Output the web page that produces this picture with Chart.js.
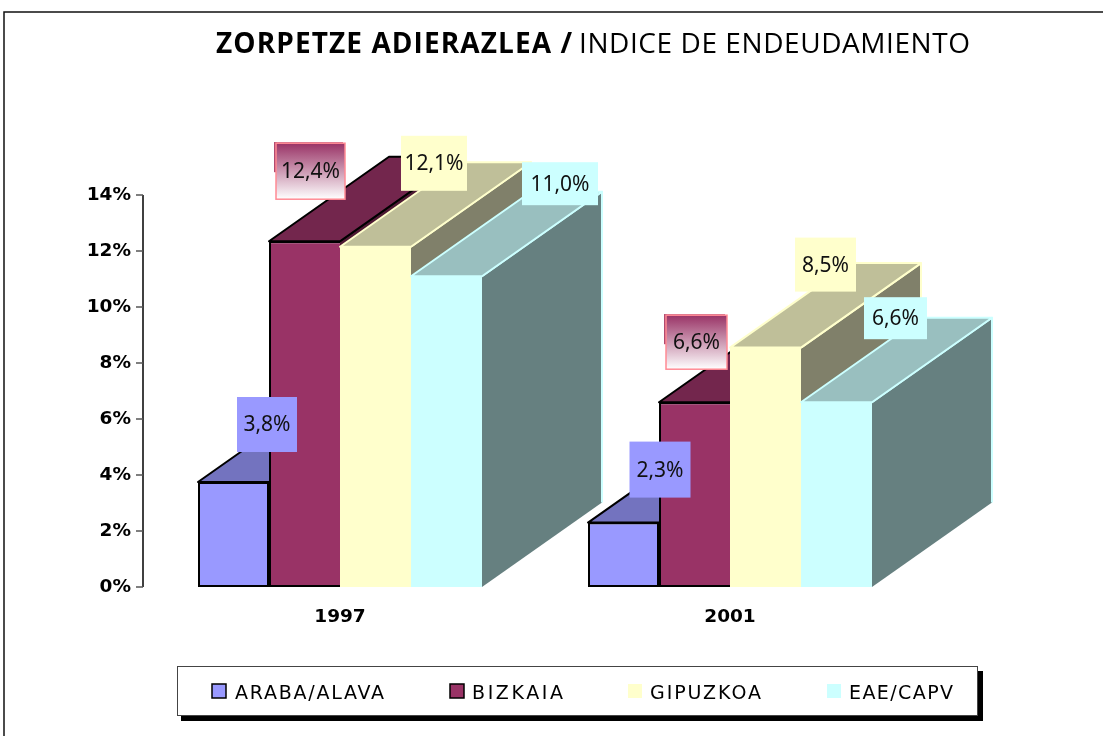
<!DOCTYPE html>
<html>
<head>
<meta charset="utf-8">
<style>html,body{margin:0;padding:0;background:#fff;overflow:hidden}canvas{display:block}</style>
<script src="https://cdn.jsdelivr.net/npm/chart.js@4/dist/chart.umd.min.js"></script>
</head>
<body>
<canvas id="c" width="1103" height="736"></canvas>
<script>
const categories = ['1997', '2001'];
const seriesNames = ['ARABA/ALAVA', 'BIZKAIA', 'GIPUZKOA', 'EAE/CAPV'];
const araba = [3.75, 2.3];
const bizkaia = [12.35, 6.6];
const gipuzkoa = [12.15, 8.55];
const eae = [11.1, 6.6];
const arabaLabels = ['3,8%', '2,3%'];
const bizkaiaLabels = ['12,4%', '6,6%'];
const gipuzkoaLabels = ['12,1%', '8,5%'];
const eaeLabels = ['11,0%', '6,6%'];
const yTickValues = [0, 2, 4, 6, 8, 10, 12, 14];

const fronts = ['#9999FF', '#993366', '#FFFFCC', '#CCFFFF'];
const tops = ['#7373BF', '#73264D', '#BFBF99', '#99BFBF'];
const sides = ['#4D4D80', '#4D1933', '#80806A', '#668080'];
const edges = ['#000000', '#000000', '#FFFFCC', '#CCFFFF'];
const DEPTH_X = 120, DEPTH_Y = 84.5;

// label boxes, relative to the bar's top centre: [dx, dy, w, h]
const labelBoxes = [
  [[33.5, -57.5, 60, 55], [36.5, -53, 61, 56]],
  [[6, -70, 69, 56], [2, -60, 61, 54]],
  [[58.5, -83.5, 66, 55], [60, -83, 61, 54]],
  [[113.5, -92.5, 76, 43], [59, -84, 63, 42]]
];
const labelTexts = [arabaLabels, bizkaiaLabels, gipuzkoaLabels, eaeLabels];

const legendLayout = [
  {swatch: 212, text: 235, width: 149},
  {swatch: 450, text: 472, width: 91},
  {swatch: 628, text: 650, width: 111},
  {swatch: 827, text: 849, width: 104}
];
const barBorders = [
  {top: 2, left: 2, bottom: 2, right: 2},
  {top: 2, left: 2, bottom: 2, right: 0},
  0,
  0
];

function fitText(ctx, text, x, y, width) {
  ctx.letterSpacing = '0px';
  const w = ctx.measureText(text).width;
  const sp = (width - w) / Math.max(1, text.length - 1);
  ctx.letterSpacing = sp.toFixed(3) + 'px';
  ctx.fillText(text, x, y);
  ctx.letterSpacing = '0px';
}

function drawDepth(ctx, bar, i) {
  const l = bar.x - bar.width / 2, r = bar.x + bar.width / 2, t = bar.y, b = bar.base;
  ctx.save();
  ctx.lineWidth = 2;
  ctx.lineJoin = 'round';
  ctx.strokeStyle = edges[i];
  ctx.fillStyle = sides[i];
  ctx.beginPath();
  ctx.moveTo(r, t); ctx.lineTo(r + DEPTH_X, t - DEPTH_Y);
  ctx.lineTo(r + DEPTH_X, b - DEPTH_Y); ctx.lineTo(r, b); ctx.closePath();
  ctx.fill();
  ctx.beginPath();
  ctx.moveTo(r, t); ctx.lineTo(r + DEPTH_X, t - DEPTH_Y);
  ctx.lineTo(r + DEPTH_X, b - DEPTH_Y);
  ctx.stroke();
  ctx.fillStyle = tops[i];
  ctx.beginPath();
  ctx.moveTo(l, t); ctx.lineTo(l + DEPTH_X, t - DEPTH_Y);
  ctx.lineTo(r + DEPTH_X, t - DEPTH_Y); ctx.lineTo(r, t); ctx.closePath();
  ctx.fill(); ctx.stroke();
  ctx.restore();
}

// Series are painted left to right so that each bar covers the depth of the previous one.
const extrude = {
  id: 'extrude',
  beforeDatasetsDraw(chart) {
    seriesNames.forEach((_, i) => {
      const meta = chart.getDatasetMeta(i);
      meta.data.forEach(bar => drawDepth(chart.ctx, bar, i));
      meta.controller.draw();
    });
  },
  beforeDatasetDraw() { return false; }
};

const decorations = {
  id: 'decorations',
  beforeDraw(chart) {
    const ctx = chart.ctx;
    ctx.save();
    // page frame
    ctx.strokeStyle = '#111';
    ctx.lineWidth = 1.5;
    ctx.beginPath();
    ctx.moveTo(4, 736); ctx.lineTo(4, 12); ctx.lineTo(1103, 12);
    ctx.stroke();
    // title
    ctx.fillStyle = '#000';
    ctx.textBaseline = 'alphabetic';
    ctx.textAlign = 'left';
    ctx.font = 'bold 28px "Comic Sans MS", "Open Sans", sans-serif';
    fitText(ctx, 'ZORPETZE ADIERAZLEA /', 216, 53, 356);
    ctx.font = '28px "Comic Sans MS", "Open Sans", sans-serif';
    fitText(ctx, 'INDICE DE ENDEUDAMIENTO', 579, 53, 391);
    // legend box
    ctx.fillStyle = '#000';
    ctx.fillRect(181, 671, 802, 50);
    ctx.fillStyle = '#fff';
    ctx.fillRect(178, 667, 799, 49);
    ctx.strokeStyle = '#444';
    ctx.lineWidth = 1;
    ctx.strokeRect(177.5, 666.5, 800, 49);
    seriesNames.forEach((name, i) => {
      const p = legendLayout[i];
      ctx.fillStyle = fronts[i];
      ctx.fillRect(p.swatch, 684, 14, 14);
      if (i < 2) {
        ctx.strokeStyle = '#000';
        ctx.lineWidth = 1.5;
        ctx.strokeRect(p.swatch, 684, 14, 14);
      }
      ctx.fillStyle = '#000';
      ctx.font = '19px "Comic Sans MS", "DejaVu Sans", sans-serif';
      fitText(ctx, name, p.text, 699, p.width);
    });
    // y axis line and tick marks
    const y = chart.scales.y, ax = chart.chartArea.left - 2;
    ctx.strokeStyle = '#000';
    ctx.lineWidth = 1.5;
    ctx.beginPath();
    ctx.moveTo(ax, y.getPixelForValue(14)); ctx.lineTo(ax, y.getPixelForValue(0));
    ctx.stroke();
    ctx.strokeStyle = '#555';
    ctx.beginPath();
    yTickValues.forEach(v => {
      const py = y.getPixelForValue(v);
      ctx.moveTo(ax - 7, py); ctx.lineTo(ax, py);
    });
    ctx.stroke();
    ctx.restore();
  },
  afterDatasetsDraw(chart) {
    const ctx = chart.ctx;
    ctx.save();
    seriesNames.forEach((_, i) => {
      chart.getDatasetMeta(i).data.forEach((bar, k) => {
        const [dx, dy, w, h] = labelBoxes[i][k];
        const cx = bar.x + dx, cy = bar.y + dy;
        const x0 = cx - w / 2, y0 = cy - h / 2;
        if (i === 1) {
          ctx.fillStyle = '#B04A70';
          ctx.fillRect(x0 - 2, y0 - 1, w, 3);
          ctx.fillRect(x0 - 2, y0 - 1, 3, 30);
          const g = ctx.createLinearGradient(0, y0, 0, y0 + h);
          g.addColorStop(0, '#993366');
          g.addColorStop(1, '#FFFFFF');
          ctx.fillStyle = g;
          ctx.fillRect(x0, y0, w, h);
          ctx.strokeStyle = '#FF8A94';
          ctx.lineWidth = 1.5;
          ctx.strokeRect(x0, y0, w, h);
        } else {
          ctx.fillStyle = fronts[i];
          ctx.fillRect(x0, y0, w, h);
        }
        ctx.fillStyle = '#111';
        ctx.font = '21px "Noto Sans", sans-serif';
        ctx.textAlign = 'center';
        ctx.textBaseline = 'middle';
        ctx.fillText(labelTexts[i][k], cx, cy + 1);
      });
    });
    ctx.restore();
  }
};

const seriesValues = [araba, bizkaia, gipuzkoa, eae];
new Chart(document.getElementById('c'), {
  type: 'bar',
  plugins: [extrude, decorations],
  data: {
    labels: categories,
    datasets: seriesNames.map((name, i) => ({
      label: name,
      data: seriesValues[i],
      backgroundColor: fronts[i],
      borderColor: edges[i],
      borderWidth: barBorders[i],
      borderSkipped: false,
      barPercentage: 1,
      categoryPercentage: 284 / 390
    }))
  },
  options: {
    responsive: false,
    animation: false,
    layout: {padding: {top: 195, right: 178, left: 0, bottom: 0}},
    plugins: {legend: {display: false}, tooltip: {enabled: false}, title: {display: false}},
    scales: {
      x: {
        grid: {display: false},
        border: {display: false},
        ticks: {color: '#000', padding: 11, font: {family: '"DejaVu Sans"', weight: 'bold', size: 18.5}},
        afterFit(s) { s.height = 149; }
      },
      y: {
        min: 0, max: 14,
        grid: {display: false},
        border: {display: false},
        ticks: {
          color: '#000', padding: 6, stepSize: 2,
          font: {family: '"DejaVu Sans"', weight: 'bold', size: 18.5},
          callback: v => v + '%'
        },
        afterFit(s) { s.width = 145; }
      }
    }
  }
});
</script>
</body>
</html>
